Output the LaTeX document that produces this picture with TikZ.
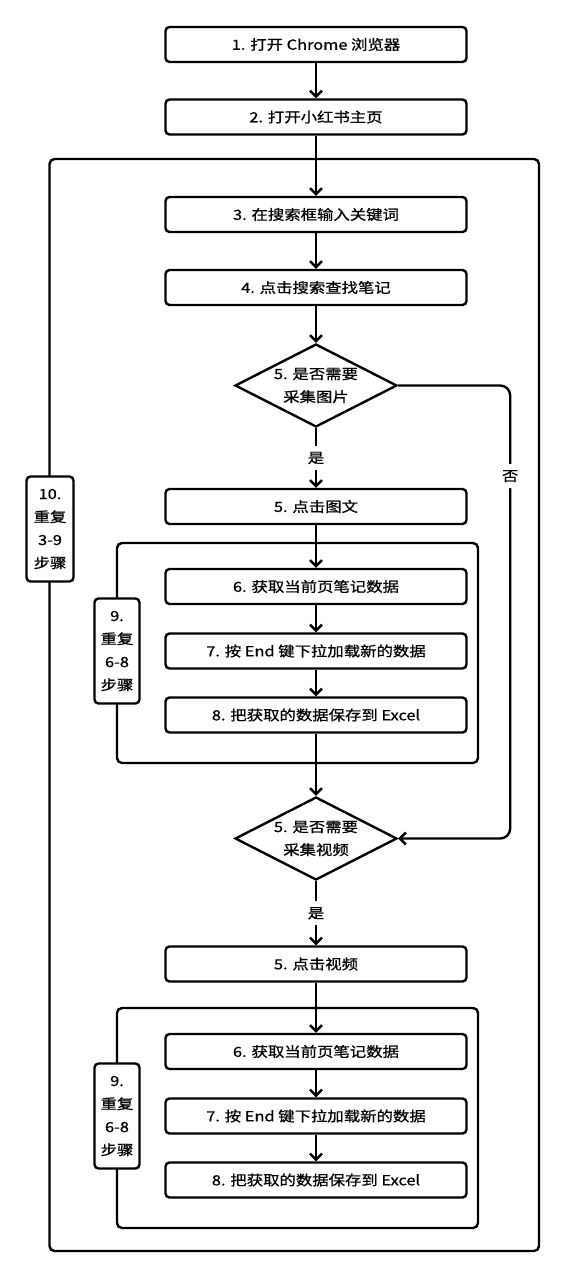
\documentclass[tikz,border=0pt]{standalone}
\usepackage{fontspec}
\setmainfont[FakeStretch=1.17, FakeBold=0.8]{Noto Sans CJK SC}
\usetikzlibrary{shapes.geometric,arrows.meta}

\begin{document}
\begin{tikzpicture}[x=1pt, y=-1pt, line width=2.4pt,
  every node/.style={font=\fontsize{14}{23}\selectfont},
  stepbox/.style={draw, rounded corners=4pt, minimum width=301pt, minimum height=35pt, inner sep=0pt},
  choice/.style={draw, diamond, minimum width=162pt, minimum height=83pt, inner sep=0pt},
  loopbox/.style={draw, fill=white, rounded corners=4pt, minimum width=45pt, minimum height=105pt, align=center, inner sep=0pt},
  flow/.style={-{Straight Barb[length=6pt, width=12pt]}},
  frame/.style={draw, rounded corners=5pt}]
  \def\cx{316}
  \useasboundingbox (0,0) rectangle (566,1280);

  \draw[frame] (49.5,159) rectangle (539,1251);

  \node[stepbox] (s1) at (\cx,44.5) {1. 打开 Chrome 浏览器};
  \node[stepbox] (s2) at (\cx,117) {2. 打开小红书主页};
  \node[stepbox] (s3) at (\cx,214.5) {3. 在搜索框输入关键词};
  \node[stepbox] (s4) at (\cx,287.5) {4. 点击搜索查找笔记};
  \node[choice] (q1) at (\cx,385.5) {};
  \node[align=center] (q1t) at (q1) {5. 是否需要\\采集图片};
  \node[stepbox] (s5) at (\cx,506.5) {5. 点击图文};
  \node[choice] (q2) at (\cx,838.5) {};
  \node[align=center] (q2t) at (q2) {5. 是否需要\\采集视频};
  \node[stepbox] (v5) at (\cx,964) {5. 点击视频};

  \foreach \g/\yo in {a/0, b/465} {
    \draw[frame] (117,543+\yo) rectangle (478,763+\yo);
    \node[stepbox] (s6\g) at (\cx,586.5+\yo) {6. 获取当前页笔记数据};
    \node[stepbox] (s7\g) at (\cx,651+\yo) {7. 按 End 键下拉加载新的数据};
    \node[stepbox] (s8\g) at (\cx,715+\yo) {8. 把获取的数据保存到 Excel};
    \node[loopbox] (r9\g) at (117,651+\yo) {9.\\重复\\6-8\\步骤};
    \draw[flow] (s6\g) -- (s7\g);
    \draw[flow] (s7\g) -- (s8\g);
  }

  \node[loopbox, minimum width=47pt] (r10) at (50,529) {10.\\重复\\3-9\\步骤};

  \draw[flow] (s1) -- (s2);
  \draw[flow] (s2) -- (s3);
  \draw[flow] (s3) -- (s4);
  \draw[flow] (s4) -- (q1);
  \draw[flow] (q1) -- node[fill=white, inner sep=6pt] (y1) {是} (s5);
  \draw[flow] (s5) -- (s6a);
  \draw[flow] (s8a) -- (q2);
  \draw[flow, rounded corners=10pt] (q1.east) -- ++(112,0)
    |- node[pos=0.1, fill=white, inner sep=6pt] (n1) {否} (q2.east);
  \draw[flow] (q2) -- node[fill=white, inner sep=6pt] (y2) {是} (v5);
  \draw[flow] (v5) -- (s6b);
\end{tikzpicture}
\end{document}
